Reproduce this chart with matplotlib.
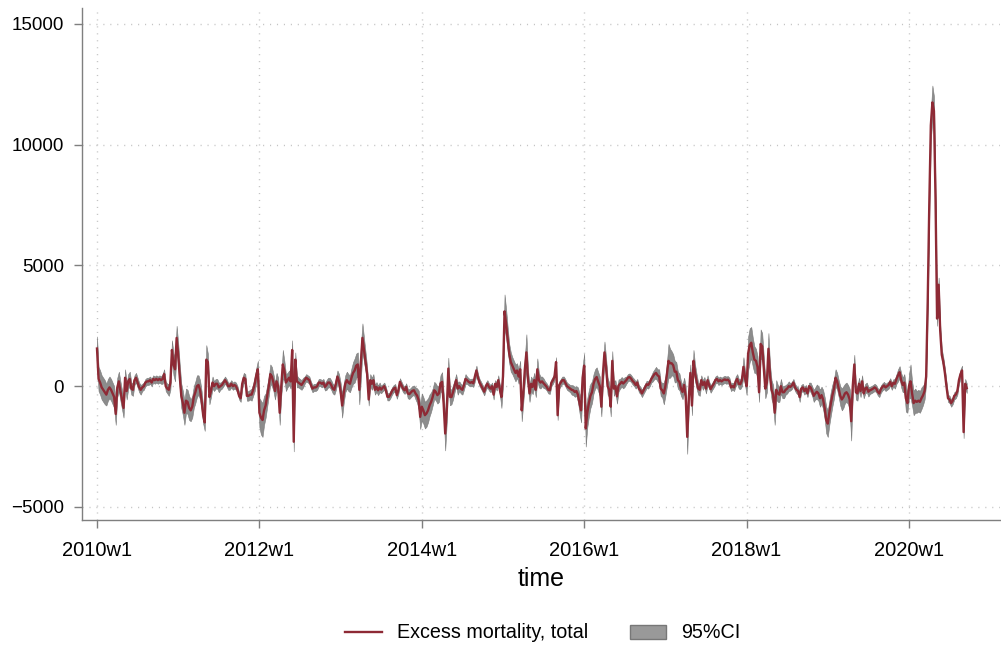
import numpy as np
import matplotlib
matplotlib.use("Agg")
import matplotlib.pyplot as plt
from matplotlib.lines import Line2D
from matplotlib.patches import Patch

plt.rcParams['font.family'] = ['Liberation Sans', 'DejaVu Sans']

# Weekly excess mortality, 2010w1 .. 2020w38 (Stata weeks: 52 per year)
excess = [
    # 2010
    1560, 300, 150, -50, -150, -250, -350, -150, -50, -150,
    -300, -450, -1150, -50, 200, -200, -550, -900, 350, -200,
    200, 300, -100, -150, 250, 350, 150, -50, -150, -50,
    0, 150, 200, 200, 250, 150, 300, 250, 300, 250,
    300, 250, 300, 500, 0, -100, -150, 150, 1500, 900,
    700, 2000,
    # 2011
    1300, 400, -400, -700, -1100, -600, -650, -900, -1000, -850,
    -450, -250, 0, 50, -150, -600, -1200, -1500, 1100, 1000,
    -450, -200, 150, 0, 100, 100, -50, 0, 50, 150,
    250, 150, 0, 0, 100, 0, 50, 0, -150, -400,
    -500, 100, 350, 300, -400, -400, -350, -350, -150, 100,
    450, 700,
    # 2012
    -1100, -1300, -1400, -1000, -800, -400, 0, 500, 400, 150,
    -200, 200, 0, -1100, 0, 900, 650, 150, 250, 350,
    200, 1500, -2300, 1100, 200, 150, 100, 50, 150, 250,
    350, 300, 250, 50, -100, -50, -50, 0, 150, 150,
    100, 150, -30, 50, 150, 150, 50, -100, -150, 100,
    400, 200,
    # 2013
    -200, -800, -300, 100, 250, 150, 100, 350, 550, 650,
    850, 900, -150, 1000, 2000, 1500, 1000, 500, -550, 250,
    100, 250, -150, -30, -170, -50, -140, -60, 0, -170,
    -440, -440, -330, -190, -100, -60, -370, -170, 180, 40,
    -100, -170, -30, -300, -330, -260, -190, -170, -300, -390,
    -580, -1270,
    # 2014
    -850, -1000, -1200, -1130, -1000, -790, -650, -440, -170, -240,
    -370, -300, 110, 180, -720, -1960, -1000, 730, -440, -450,
    -250, 0, 250, -100, 0, -100, -150, 50, 300, 250,
    180, 140, 170, 120, 400, 650, 350, 150, 30, -100,
    -230, 0, 100, -30, -100, 0, -350, 100, -30, 250,
    -150, -450,
    # 2015
    400, 3100, 2600, 1950, 1350, 1000, 850, 700, 550, 650,
    400, 700, -1000, -300, 700, 1400, 300, -300, 100, -30,
    250, -150, 700, 250, 150, 200, 120, 50, -30, -150,
    -170, 150, 250, 400, 1000, -1200, 50, 150, 250, 250,
    130, 0, -50, -100, -150, -170, -240, -200, -350, -700,
    -1000, 350,
    # 2016
    850, -1750, -1100, -700, -400, -250, 100, 300, 380, 180,
    0, -850, 500, 1400, 800, 0, -150, -850, 1050, -100,
    0, -420, 30, 100, 180, 110, 180, 250, 350, 380,
    320, 220, 150, 50, 150, -100, -170, -300, -170, -50,
    80, 50, 150, 300, 400, 500, 550, 450, 400, -100,
    -170, -300,
    # 2017
    0, 500, 1050, 950, 950, 870, 600, 600, 250, 180,
    -100, -240, 50, -400, -2100, -500, 550, -800, 1050, 550,
    200, -100, -150, 250, 50, 180, -100, 250, 50, -120,
    0, 100, 250, 300, 200, 250, 200, 250, 280, 250,
    270, 200, -50, 0, -50, 200, 300, 100, 80, 250,
    800, 350,
    # 2018
    0, 1350, 1700, 1800, 1400, 1100, 1050, 800, -250, 1750,
    1650, 800, -100, 150, 1550, 450, -150, -350, -1100, -150,
    -300, -350, 0, -250, -250, -150, -100, 0, -30, 30,
    150, -50, -150, -200, -450, -100, -50, -200, -100, -300,
    0, -50, -200, -400, -300, -230, -300, -500, -370, -550,
    -900, -1400,
    # 2019
    -1550, -1100, -700, -370, -100, 350, 200, -100, -400, -550,
    -450, -300, -250, -350, -550, -1450, 0, 900, -250, -300,
    100, -200, 200, -300, -100, -50, -230, -170, -140, -100,
    -50, -100, -230, -300, -120, -30, 30, -50, 0, 50,
    180, 0, 140, 100, 300, 450, 580, 250, 50, 150,
    -500, -700,
    # 2020
    0, 200, -300, -700, -600, -650, -600, -650, -500, -380,
    -200, 400, 3500, 7500, 10800, 11750, 11400, 7800, 2800, 4200,
    2300, 1300, 1000, 550, 0, -500, -550, -700, -600, -400,
    -350, -200, 250, 500, 650, -1900, 100, -80,
]

# Half-width of the 95% confidence band, per week
ci_half = [
    # 2010
    500, 500, 500, 500, 500, 500, 450, 450, 450, 450, 450, 450, 450,
    400, 400, 400, 400, 400, 350, 350, 300, 300, 250, 250, 200, 200,
    200, 200, 200, 150, 150, 150, 150, 150, 150, 150, 150, 150, 150,
    150, 150, 150, 200, 200, 200, 200, 250, 300, 400, 450, 500, 500,
    # 2011
    500, 500, 500, 500, 500, 500, 500, 500, 450, 450, 450, 450, 450,
    400, 400, 400, 350, 350, 600, 350, 300, 250, 250, 200, 200, 200,
    200, 150, 150, 150, 150, 150, 150, 150, 150, 150, 150, 150, 150,
    150, 150, 200, 200, 200, 200, 200, 200, 250, 250, 300, 300, 350,
    # 2012
    600, 700, 700, 600, 500, 450, 400, 400, 400, 350, 350, 350, 350,
    500, 400, 600, 400, 350, 300, 300, 300, 400, 400, 300, 250, 200,
    200, 200, 200, 150, 150, 150, 150, 150, 150, 150, 150, 150, 150,
    150, 150, 150, 150, 200, 200, 200, 200, 200, 200, 250, 250, 300,
    # 2013
    350, 500, 400, 350, 350, 350, 350, 400, 450, 500, 500, 500, 600,
    700, 600, 500, 400, 300, 250, 250, 250, 250, 200, 200, 200, 200,
    150, 150, 150, 150, 150, 150, 150, 150, 150, 150, 150, 150, 150,
    150, 150, 150, 150, 200, 200, 200, 200, 200, 250, 300, 400, 500,
    # 2014
    550, 550, 550, 550, 500, 450, 400, 350, 350, 350, 350, 350, 350,
    400, 450, 700, 500, 450, 350, 300, 300, 250, 250, 250, 200, 200,
    200, 200, 200, 150, 150, 150, 150, 150, 200, 200, 150, 150, 150,
    150, 150, 150, 150, 150, 150, 150, 200, 150, 150, 200, 200, 450,
    # 2015
    400, 700, 600, 500, 400, 400, 350, 350, 350, 300, 300, 350, 450,
    400, 500, 750, 400, 350, 300, 300, 300, 300, 450, 300, 250, 200,
    200, 150, 150, 150, 150, 150, 150, 150, 200, 200, 150, 150, 150,
    150, 150, 150, 150, 150, 200, 200, 200, 200, 300, 400, 500, 500,
    # 2016
    500, 750, 600, 550, 500, 450, 400, 400, 400, 400, 400, 400, 400,
    450, 400, 350, 300, 400, 400, 300, 250, 300, 250, 200, 200, 200,
    200, 150, 150, 150, 150, 150, 150, 150, 150, 150, 150, 150, 150,
    150, 150, 150, 150, 150, 200, 200, 250, 250, 300, 300, 300, 450,
    # 2017
    400, 500, 700, 600, 500, 450, 450, 400, 350, 350, 300, 300, 300,
    400, 700, 400, 350, 400, 450, 350, 300, 250, 250, 200, 200, 200,
    200, 200, 150, 150, 150, 150, 150, 150, 150, 150, 150, 150, 150,
    150, 150, 150, 150, 150, 150, 200, 200, 200, 200, 250, 400, 300,
    # 2018
    350, 700, 700, 650, 600, 550, 500, 450, 400, 600, 550, 450, 400,
    400, 650, 450, 400, 400, 500, 400, 350, 300, 300, 250, 250, 200,
    200, 200, 150, 150, 150, 150, 150, 150, 200, 150, 150, 150, 150,
    150, 150, 200, 200, 250, 250, 300, 300, 350, 350, 400, 450, 550,
    # 2019
    550, 500, 500, 450, 400, 350, 350, 350, 400, 450, 450, 400, 400,
    400, 450, 800, 400, 400, 300, 300, 250, 250, 250, 200, 200, 200,
    200, 150, 150, 150, 150, 150, 150, 150, 150, 150, 150, 150, 150,
    150, 150, 150, 150, 200, 200, 250, 250, 300, 300, 350, 550, 400,
    # 2020
    500, 700, 500, 500, 500, 450, 450, 450, 450, 400, 350, 300, 400,
    500, 600, 700, 600, 400, 300, 300, 250, 250, 200, 200, 200, 150,
    150, 150, 150, 150, 150, 150, 150, 200, 200, 250, 200, 200,
]

tick_years = [2010, 2012, 2014, 2016, 2018, 2020]
tick_labels = [f"{y}w1" for y in tick_years]
y_ticks = [-5000, 0, 5000, 10000, 15000]

excess = np.array(excess, dtype=float)
ci_half = np.array(ci_half, dtype=float)
weeks = np.arange(len(excess))
lower = excess - ci_half
upper = excess + ci_half

W, H = 1001, 650
fig = plt.figure(figsize=(W / 100, H / 100), dpi=100)
ax = fig.add_axes([82 / W, 1 - 520 / H, 918 / W, 512 / H])

line_color = '#8E2A35'
band_color = '#8c8c8c'
axis_color = '#7f7f7f'
grid_color = '#c4c4c4'

ax.fill_between(weeks, lower, upper, facecolor=band_color, edgecolor='#7a7a7a',
                linewidth=0.4, zorder=2)
ax.plot(weeks, excess, color=line_color, linewidth=1.7, zorder=3)

ax.set_xlim(-9.6, 578.3)
ax.set_ylim(-5541, 15661)

ax.set_xticks([(y - 2010) * 52 for y in tick_years])
ax.set_xticklabels(tick_labels)
ax.set_yticks(y_ticks)
ax.set_yticklabels([f"{v}".replace('-', '\u2212') for v in y_ticks])

for s in ['top', 'right']:
    ax.spines[s].set_visible(False)
for s in ['left', 'bottom']:
    ax.spines[s].set_color(axis_color)
    ax.spines[s].set_linewidth(1.0)

ax.tick_params(axis='both', which='major', direction='out', length=6,
               width=1.0, color=axis_color, labelcolor='black')
ax.tick_params(axis='y', pad=7, labelsize=13.5)
ax.tick_params(axis='x', pad=9, labelsize=14.5)

ax.grid(True, which='major', color=grid_color, linewidth=1.0,
        linestyle=(0, (0.8, 4.2)), zorder=0)
ax.set_axisbelow(True)

ax.set_xlabel('time', fontsize=18, labelpad=5)

handles = [Line2D([0], [0], color=line_color, linewidth=1.7),
           Patch(facecolor='#999999', edgecolor='#777777', linewidth=1.0)]
fig.legend(handles, ['Excess mortality, total', '95%CI'], loc='center',
           bbox_to_anchor=(543 / W, 1 - 633 / H), ncol=2, frameon=False,
           fontsize=14.2, handlelength=1.85, handletextpad=0.78,
           columnspacing=2.1, handleheight=0.7)

fig.savefig('out.png', dpi=100)
